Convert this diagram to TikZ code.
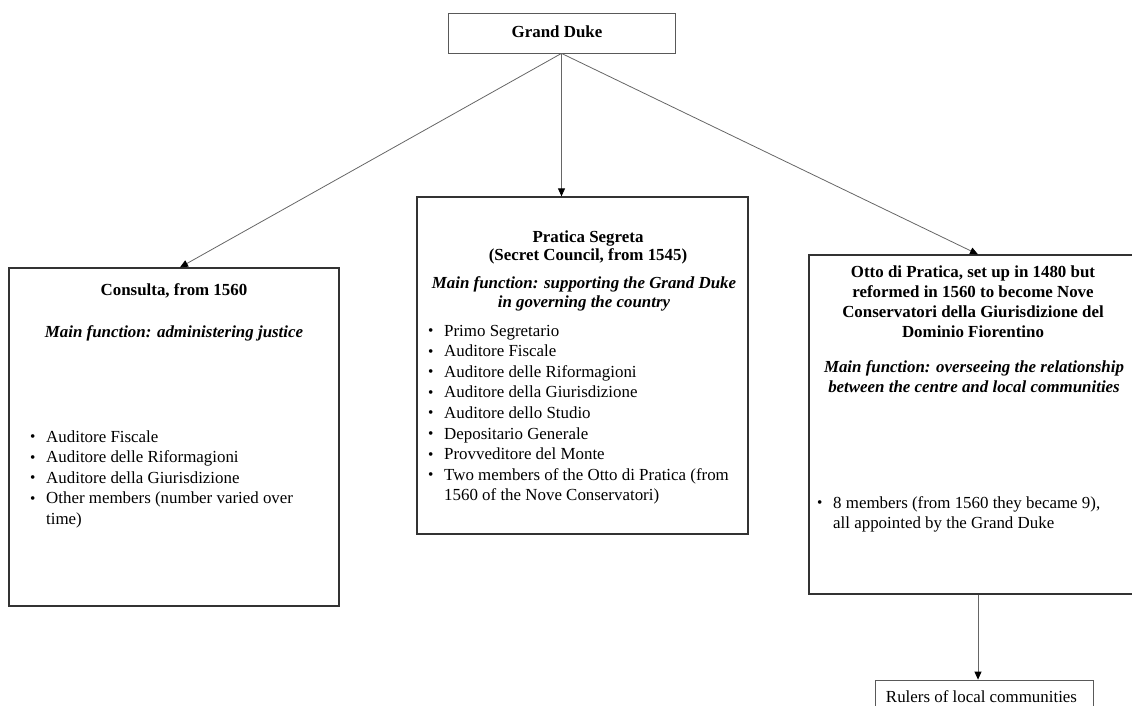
\documentclass[tikz,border=0pt]{standalone}
\usepackage{fontspec}
\setmainfont{Liberation Serif}
\usetikzlibrary{arrows.meta,calc}
\newcommand{\blt}{\makebox[16pt][l]{\raisebox{0.5pt}{\scalebox{0.9}{\textbullet}}}}
\begin{document}
\begin{tikzpicture}[x=1pt,y=-1pt,
  box/.style={draw=black!80, line width=1.3pt, inner sep=0pt},
  thinbox/.style={draw=black!65, line width=0.8pt, inner sep=0pt},
  txt/.style={inner sep=0pt, font=\fontsize{16.9}{20.6}\selectfont},
  link/.style={draw=black!60, line width=0.8pt, -{Triangle[length=8pt,width=7pt,color=black]}},
]
\useasboundingbox (0,0) rectangle (1132,706);
\clip (0,0) rectangle (1132,706);

% boxes
\node[thinbox, minimum width=227pt, minimum height=40pt] (gd) at (561.5,33) {};
\node[box, minimum width=330pt, minimum height=338pt] (consulta) at (174,437) {};
\node[box, minimum width=331pt, minimum height=337pt] (pratica) at (582.5,365.5) {};
\node[box, minimum width=328pt, minimum height=339pt] (otto) at (973,424.5) {};
\node[thinbox, minimum width=218pt, minimum height=50pt] (rulers) at (984,705) {};

% Grand Duke
\node[txt, anchor=base] (gdtext) at (557,38) {\bfseries Grand Duke};

% Consulta
\node[txt, anchor=base] (ctitle) at (174,295) {\bfseries Consulta, from 1560};
\node[txt, anchor=base] (cfunc) at (174,337) {\bfseries\itshape Main function: administering justice};
\node[txt, anchor=base west, align=left] (clist) at (30,524.4) {\blt Auditore Fiscale\\
\blt Auditore delle Riformagioni\\
\blt Auditore della Giurisdizione\\
\blt Other members (number varied over\\
\hspace*{16pt}time)};

% Pratica Segreta
\node[txt, anchor=base, align=center, font=\fontsize{16.9}{18.5}\selectfont\bfseries] (ptitle) at (588,260.5) {Pratica Segreta\\(Secret Council, from 1545)};
\node[txt, anchor=base, align=center, font=\fontsize{16.9}{19}\selectfont\bfseries\itshape] (pfunc) at (584,307) {Main function: supporting the Grand Duke\\in governing the country};
\node[txt, anchor=base west, align=left] (plist) at (428,500.8) {\blt Primo Segretario\\
\blt Auditore Fiscale\\
\blt Auditore delle Riformagioni\\
\blt Auditore della Giurisdizione\\
\blt Auditore dello Studio\\
\blt Depositario Generale\\
\blt Provveditore del Monte\\
\blt Two members of the Otto di Pratica (from\\
\hspace*{16pt}1560 of the Nove Conservatori)};

% Otto di Pratica
\node[txt, anchor=base, align=center, font=\fontsize{16.9}{20}\selectfont\bfseries] (otitle) at (973,337) {Otto di Pratica, set up in 1480 but\\reformed in 1560 to become Nove\\Conservatori della Giurisdizione del\\Dominio Fiorentino};
\node[txt, anchor=base, align=center, font=\fontsize{16.9}{20}\selectfont\bfseries\itshape] (ofunc) at (974,392) {Main function: overseeing the relationship\\between the centre and local communities};
\node[txt, anchor=base west, align=left] (olist) at (817,528.6) {\blt 8 members (from 1560 they became 9),\\
\hspace*{16pt}all appointed by the Grand Duke};

% Rulers
\node[txt, anchor=base] (rtext) at (981.5,702) {Rulers of local communities};

% connectors
\draw[link] (gd.south) -- ($(consulta.north)+(6,0)$);
\draw[link] (gd.south) -- (gd.south |- pratica.north);
\draw[link] (gd.south) -- ($(otto.north)+(5,0)$);
\coordinate (ra) at ($(otto.south)+(5,0)$);
\draw[link] (ra) -- (ra |- rulers.north);
\end{tikzpicture}
\end{document}
